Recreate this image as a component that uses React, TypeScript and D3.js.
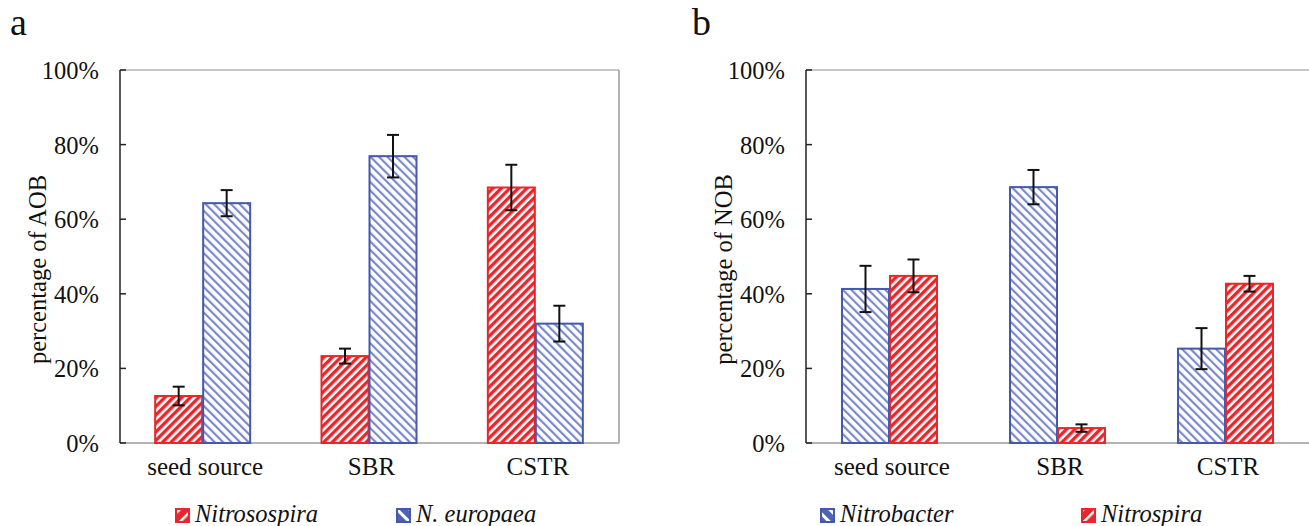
import React from "react";
import * as d3 from "d3";

const categories = ["seed source", "SBR", "CSTR"];
const yTicks = [0, 20, 40, 60, 80, 100];

// Panel a (AOB)
const nitrosospira = [12.6, 23.3, 68.5];
const nitrosospiraErr = [2.5, 2.0, 6.1];
const nEuropaea = [64.3, 76.9, 32.0];
const nEuropaeaErr = [3.5, 5.7, 4.8];

// Panel b (NOB)
const nitrobacter = [41.3, 68.6, 25.3];
const nitrobacterErr = [6.2, 4.6, 5.5];
const nitrospira = [44.8, 4.0, 42.7];
const nitrospiraErr = [4.4, 1.0, 2.1];

const RED = "#E8262B";
const BLUE = "#4458AC";
const FONT = "Liberation Serif";

type Series = { name: string; values: number[]; err: number[]; kind: "red" | "blue" };

function Panel({
  left,
  right,
  letter,
  letterX,
  ylabel,
  series,
  legendX,
}: {
  left: number;
  right: number;
  letter: string;
  letterX: number;
  ylabel: string;
  series: Series[];
  legendX: number[];
}) {
  const top = 70;
  const bottom = 443;
  const y = d3.scaleLinear().domain([0, 100]).range([bottom, top]);
  const x = d3.scaleBand().domain(categories).range([left, right]).padding(0);
  const barW = 48;
  const inner = d3
    .scaleBand()
    .domain(series.map((s) => s.name))
    .range([0, barW * 2]);
  const fmt = (v: number) => `${v}%`;
  return (
    <g fontFamily={FONT} fill="#111">
      <text x={letterX} y={35} fontSize={38}>
        {letter}
      </text>
      {/* box */}
      <line x1={left} x2={right} y1={top} y2={top} stroke="#b4b4b4" strokeWidth={1.5} />
      <line x1={right} x2={right} y1={top} y2={bottom} stroke="#9a9a9a" strokeWidth={1.5} />
      <line x1={left} x2={right} y1={bottom} y2={bottom} stroke="#b4b4b4" strokeWidth={2} />
      {/* bars */}
      {series.map((s) =>
        categories.map((c, i) => {
          const bx = (x(c) as number) + x.bandwidth() / 2 - barW + (inner(s.name) as number);
          const by = y(s.values[i]);
          return (
            <rect
              key={s.name + c}
              x={bx}
              y={by}
              width={barW - 1}
              height={bottom - by}
              fill={`url(#hatch-${s.kind})`}
              stroke={s.kind === "red" ? RED : BLUE}
              strokeWidth={2}
            />
          );
        })
      )}
      {/* error bars */}
      {series.map((s) =>
        categories.map((c, i) => {
          const cx = (x(c) as number) + x.bandwidth() / 2 - barW + (inner(s.name) as number) + barW / 2 - 0.5;
          const y1 = y(s.values[i] + s.err[i]);
          const y2 = y(s.values[i] - s.err[i]);
          return (
            <g key={"e" + s.name + c} stroke="#111" strokeWidth={2}>
              <line x1={cx} x2={cx} y1={y1} y2={y2} />
              <line x1={cx - 6} x2={cx + 6} y1={y1} y2={y1} />
              <line x1={cx - 6} x2={cx + 6} y1={y2} y2={y2} />
            </g>
          );
        })
      )}
      {/* left axis */}
      <line x1={left} x2={left} y1={top} y2={bottom} stroke="#222" strokeWidth={1.5} />
      {yTicks.map((t) => (
        <g key={t}>
          <line x1={left} x2={left + 6} y1={y(t)} y2={y(t)} stroke="#222" strokeWidth={1.5} />
          <text x={left - 21} y={y(t) + 9} textAnchor="end" fontSize={24.5}>
            {fmt(t)}
          </text>
        </g>
      ))}
      <text
        transform={`translate(${left - 74},${(top + bottom) / 2 + 13}) rotate(-90)`}
        textAnchor="middle"
        fontSize={24.5}
      >
        {ylabel}
      </text>
      {categories.map((c) => (
        <text
          key={c}
          x={(x(c) as number) + x.bandwidth() / 2 + 2}
          y={475}
          textAnchor="middle"
          fontSize={25}
        >
          {c}
        </text>
      ))}
      {/* legend */}
      {series.map((s, i) => (
        <g key={"l" + s.name}>
          <rect
            x={legendX[i]}
            y={509}
            width={13}
            height={13}
            fill={`url(#legend-${s.kind})`}
            stroke={s.kind === "red" ? RED : BLUE}
            strokeWidth={2}
          />
          <text x={legendX[i] + 19} y={522} fontSize={24.5} fontStyle="italic">
            {s.name}
          </text>
        </g>
      ))}
    </g>
  );
}

export default function App() {
  return (
    <svg
      width={1309}
      height={526}
      style={{ position: "absolute", left: 0, top: 0, background: "#fff" }}
    >
      <defs>
        <pattern
          id="hatch-red"
          patternUnits="userSpaceOnUse"
          width={6}
          height={6}
          patternTransform="rotate(45)"
        >
          <rect width={6} height={6} fill="#fff" />
          <rect width={3.4} height={6} fill={RED} />
        </pattern>
        <pattern
          id="hatch-blue"
          patternUnits="userSpaceOnUse"
          width={6}
          height={6}
          patternTransform="rotate(-45)"
        >
          <rect width={6} height={6} fill="#fff" />
          <rect width={2.2} height={6} fill="#7b89cb" />
        </pattern>
        <pattern
          id="legend-red"
          patternUnits="userSpaceOnUse"
          width={9}
          height={9}
          patternTransform="rotate(45)"
        >
          <rect width={9} height={9} fill={RED} />
          <rect width={2.5} height={9} fill="#fff" />
        </pattern>
        <pattern
          id="legend-blue"
          patternUnits="userSpaceOnUse"
          width={9}
          height={9}
          patternTransform="rotate(-45)"
        >
          <rect width={9} height={9} fill="#4f62b4" />
          <rect width={3} height={9} fill="#fff" />
        </pattern>
      </defs>
      <rect width={1309} height={526} fill="#fff" />
      <Panel
        left={120}
        right={619}
        letter="a"
        letterX={10}
        ylabel="percentage of AOB"
        series={[
          { name: "Nitrosospira", values: nitrosospira, err: nitrosospiraErr, kind: "red" },
          { name: "N. europaea", values: nEuropaea, err: nEuropaeaErr, kind: "blue" },
        ]}
        legendX={[176, 397]}
      />
      <Panel
        left={806}
        right={1310}
        letter="b"
        letterX={692}
        ylabel="percentage of NOB"
        series={[
          { name: "Nitrobacter", values: nitrobacter, err: nitrobacterErr, kind: "blue" },
          { name: "Nitrospira", values: nitrospira, err: nitrospiraErr, kind: "red" },
        ]}
        legendX={[821, 1082]}
      />
    </svg>
  );
}
